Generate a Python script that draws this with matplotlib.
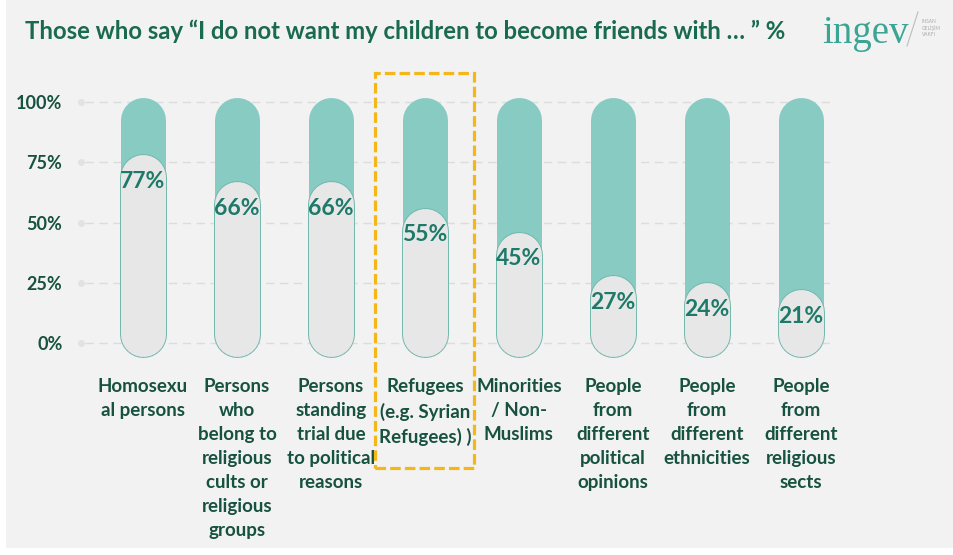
import matplotlib
matplotlib.use("Agg")
from matplotlib import pyplot as plt
from matplotlib.patches import Rectangle
import numpy as np

categories = [
    "Homosexu\nal persons",
    "Persons\nwho\nbelong to\nreligious\ncults or\nreligious\ngroups",
    "Persons\nstanding\ntrial due\nto political\nreasons",
    "Refugees\n(e.g. Syrian\nRefugees) )",
    "Minorities\n/ Non-\nMuslims",
    "People\nfrom\ndifferent\npolitical\nopinions",
    "People\nfrom\ndifferent\nethnicities",
    "People\nfrom\ndifferent\nreligious\nsects",
]
values = [77, 66, 66, 55, 45, 27, 24, 21]
ytick_vals = [0, 25, 50, 75, 100]
ytick_labels = ["0%", "25%", "50%", "75%", "100%"]
highlight = 3

title = "Those who say \u201cI do not want my children to become friends with \u2026 \u201d %"

teal = "#88cbc3"
teal_edge = "#72b8ad"
pill_gray = "#e8e7e8"
dark = "#17513f"
label_teal = "#1d7a69"
bg = "#f2f2f2"

plt.rcParams['font.family'] = ['Lato', 'DejaVu Sans']

fig = plt.figure(figsize=(9.54, 5.55), dpi=100)
fig.patch.set_facecolor("white")
fig.patches.append(Rectangle((6 / 954, 7 / 555), 948 / 954, 548 / 555,
                             transform=fig.transFigure, facecolor=bg,
                             edgecolor="none", zorder=-5))

ax = fig.add_axes([75 / 954, 1 - 362.3 / 555, 755 / 954, 279.6 / 555])
ax.set_zorder(2)
ax.set_facecolor("none")
ax.set_xlim(-0.723, 7.31)
ax.set_ylim(-8, 108)
for s in ax.spines.values():
    s.set_visible(False)

# grid lines with the little dot at the start
for yv in ytick_vals:
    ax.plot([-0.62, 7.31], [yv, yv], color="#dcdcdc", lw=1.0,
            dashes=(6, 4), zorder=1)
    ax.plot([-0.66], [yv], marker="o", ms=5, color="#e2e2e2", mec="none",
            zorder=1)

ax.set_yticks(ytick_vals)
ax.set_yticklabels(ytick_labels, fontsize=13, fontweight="bold", color=dark)
ax.tick_params(axis="y", length=0, pad=9)
ax.set_xticks([])

pill_w = 32.4      # points, ~45 px
r = 9.13           # cap radius in data units
y0 = 3.7
x = np.arange(len(values))
for xi, v in zip(x, values):
    ax.plot([xi, xi], [y0, 101.8 - r], color=teal, lw=pill_w,
            solid_capstyle="round", zorder=2)
    ax.plot([xi, xi], [y0, v + 0.8 - r], color=teal_edge, lw=pill_w + 1.4,
            solid_capstyle="round", zorder=3)
    ax.plot([xi, xi], [y0, v + 0.8 - r], color=pill_gray, lw=pill_w,
            solid_capstyle="round", zorder=4)
    ax.text(xi, v - 10, f"{v}%", ha="center", va="center", fontsize=16.5,
            fontweight="bold", color=label_teal, zorder=5)

for xi, cat in zip(x, categories):
    ax.text(xi, -14.5, cat, ha="center", va="top", fontsize=13.5,
            fontweight="bold", color=dark, linespacing=1.5, zorder=5)

# dashed highlight box around the refugees column
ax.add_patch(Rectangle((highlight - 0.532, -51.9), 1.053, 163.9, fill=False,
                       edgecolor="#f5b617", lw=2.3, linestyle=(0, (3.3, 1.3)),
                       clip_on=False, zorder=6))

fig.text(25 / 954, 1 - 31 / 555, title, fontsize=17.2, fontweight="bold",
         color="#1a6a4e", ha="left", va="center")

# logo
fig.text(822 / 954, 1 - 43 / 555, "ingev", family="Liberation Serif",
         fontsize=28, color="#3ba594", ha="left", va="baseline")
fig.add_artist(plt.Line2D([907 / 954, 918 / 954], [1 - 46 / 555, 1 - 12 / 555],
                          color="#bdbdbd", lw=0.8))
fig.text(922 / 954, 1 - 28 / 555, "INSAN\nGEL\u0130\u015e\u0130M\nVAKFI",
         fontsize=3.5, color="#aaaaaa", ha="left", va="center",
         linespacing=1.3)

plt.savefig("out.png", dpi=100, facecolor=fig.get_facecolor())
